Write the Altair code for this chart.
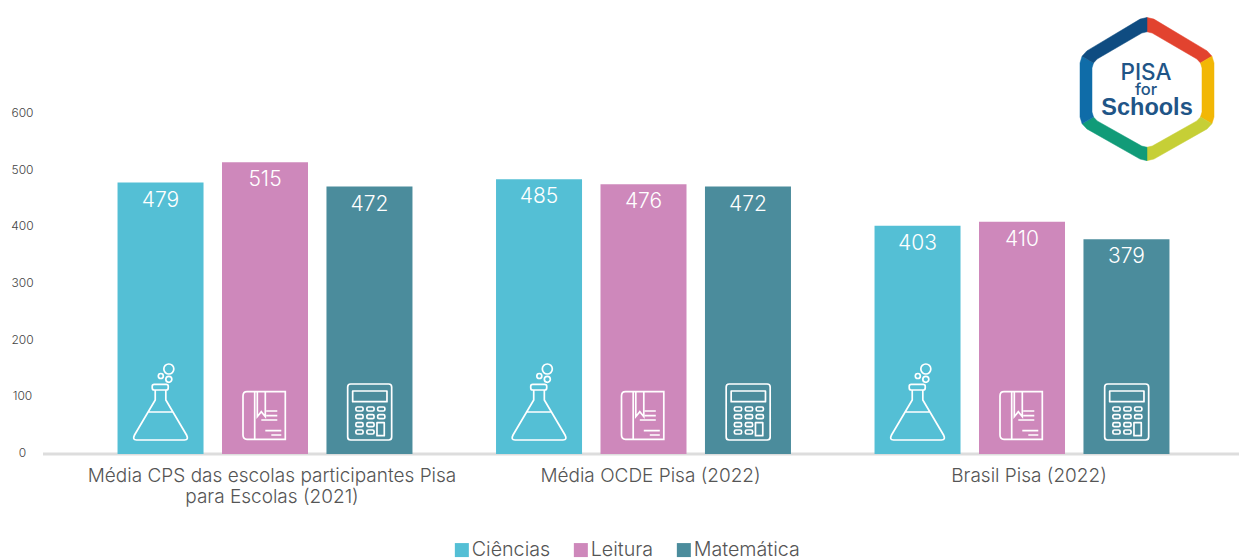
import altair as alt
import pandas as pd
import math

categories = ["Média CPS das escolas participantes Pisa|para Escolas (2021)",
              "Média OCDE Pisa (2022)", "Brasil Pisa (2022)"]
subjects = ["Ciências", "Leitura", "Matemática"]
ciencias = [479, 485, 403]
leitura = [515, 476, 410]
matematica = [472, 472, 379]
colors = ["#54BFD5", "#CE88BB", "#4B8C9C"]
y_ticks = [0, 100, 200, 300, 400, 500, 600]

FONT = "Inter"
W, H = 1196, 340

rows = []
for s, vals in zip(subjects, [ciencias, leitura, matematica]):
    for c, v in zip(categories, vals):
        rows.append({"cat": c, "subject": s, "value": v})
df = pd.DataFrame(rows)


def u(v, r):
    return f"{v / r:.4f}"


def poly(points, r, close=True):
    d = "M" + " L".join(f"{u(x, r)} {u(y, r)}" for x, y in points)
    return d + (" Z" if close else "")


def circle(cx, cy, rad, r):
    k = 0.5523 * rad
    return (f"M{u(cx - rad, r)} {u(cy, r)} "
            f"C{u(cx - rad, r)} {u(cy - k, r)} {u(cx - k, r)} {u(cy - rad, r)} {u(cx, r)} {u(cy - rad, r)} "
            f"C{u(cx + k, r)} {u(cy - rad, r)} {u(cx + rad, r)} {u(cy - k, r)} {u(cx + rad, r)} {u(cy, r)} "
            f"C{u(cx + rad, r)} {u(cy + k, r)} {u(cx + k, r)} {u(cy + rad, r)} {u(cx, r)} {u(cy + rad, r)} "
            f"C{u(cx - k, r)} {u(cy + rad, r)} {u(cx - rad, r)} {u(cy + k, r)} {u(cx - rad, r)} {u(cy, r)} Z")


def rrect(x0, y0, x1, y1, c, r):
    return (f"M{u(x0 + c, r)} {u(y0, r)} L{u(x1 - c, r)} {u(y0, r)} Q{u(x1, r)} {u(y0, r)} {u(x1, r)} {u(y0 + c, r)} "
            f"L{u(x1, r)} {u(y1 - c, r)} Q{u(x1, r)} {u(y1, r)} {u(x1 - c, r)} {u(y1, r)} "
            f"L{u(x0 + c, r)} {u(y1, r)} Q{u(x0, r)} {u(y1, r)} {u(x0, r)} {u(y1 - c, r)} "
            f"L{u(x0, r)} {u(y0 + c, r)} Q{u(x0, r)} {u(y0, r)} {u(x0 + c, r)} {u(y0, r)} Z")


R = 50
flask = " ".join([
    rrect(-8.3, -27.7, 7.7, -22, 2, R),
    f"M{u(-5.3, R)} {u(-22, R)} L{u(-5.3, R)} {u(-12, R)} L{u(-26, R)} {u(23, R)} "
    f"Q{u(-28.5, R)} {u(28, R)} {u(-24, R)} {u(28, R)} L{u(24, R)} {u(28, R)} "
    f"Q{u(28.5, R)} {u(28, R)} {u(26, R)} {u(23, R)} L{u(5.3, R)} {u(-12, R)} L{u(5.3, R)} {u(-22, R)}",
    poly([(-12.3, 0), (12.3, 0)], R, False),
    circle(8.3, -43, 5, R), circle(8.3, -32.7, 3, R), circle(0.3, -36, 2.5, R),
])
book = " ".join([
    f"M{u(20.3, R)} {u(-20.3, R)} L{u(-18, R)} {u(-20.3, R)} Q{u(-22, R)} {u(-20.3, R)} {u(-22, R)} {u(-16, R)} "
    f"L{u(-22, R)} {u(23, R)} Q{u(-22, R)} {u(27.3, R)} {u(-18, R)} {u(27.3, R)} L{u(20.3, R)} {u(27.3, R)} Z",
    poly([(-10.3, -20.3), (-10.3, 27.3)], R, False),
    poly([(-7.7, -20.3), (-7.7, 4.7), (-3.7, -0.3), (0.3, 4.7), (0.3, -20.3)], R, False),
    poly([(1.3, -1), (12.3, -1)], R, False),
    poly([(1.3, 3.7), (12.3, 3.7)], R, False),
    poly([(-3.7, 8), (12.3, 8)], R, False),
    poly([(0.3, 18.7), (16.3, 18.7)], R, False),
    poly([(6.3, 23), (16.3, 23)], R, False),
])
key_parts = []
for kx in (-10, 1, 11.8):
    for ky in (-3, 4.7, 12.7, 20):
        if kx > 10 and ky > 10:
            continue
        key_parts.append(rrect(kx - 3.6, ky - 2, kx + 3.6, ky + 2, 1.5, R))
calc = " ".join([
    rrect(-21.8, -28, 22.2, 28, 3, R),
    rrect(-16.8, -21, 17.5, -10.3, 0.01, R),
    rrect(7.5, 10.7, 14.8, 23.7, 0.01, R),
] + key_parts)
icons = [flask, book, calc]

LR = 74
outer_v = [(0, -74), (67, -34), (67, 36), (0, 74), (-67, 36), (-67, -34)]
inner_v = [(0, -59), (55, -27), (55, 29), (0, 60), (-55, 29), (-55, -27)]
logo_colors = ["#E2432F", "#F2B705", "#C6CF36", "#119B78", "#0F6CA8", "#0F4C81"]


def round_corners(vs, t):
    res = []
    n = len(vs)
    for i, (x, y) in enumerate(vs):
        px, py = vs[i - 1]
        nx, ny = vs[(i + 1) % n]
        lp, ln = math.hypot(px - x, py - y), math.hypot(nx - x, ny - y)
        a = (x + (px - x) * t / lp, y + (py - y) * t / lp)
        b = (x + (nx - x) * t / ln, y + (ny - y) * t / ln)
        m = ((a[0] + b[0]) / 2 * 0.6 + x * 0.4, (a[1] + b[1]) / 2 * 0.6 + y * 0.4)
        res.append((a, m, b))
    return res


outer = round_corners(outer_v, 8)
inner = round_corners(inner_v, 6)

x_enc = alt.X("cat:N", sort=categories,
              scale=alt.Scale(domain=categories, range=[32.75, 1168.25], paddingInner=0, paddingOuter=0),
              axis=alt.Axis(title=None, domain=False, ticks=False, labelAngle=0, labelFont=FONT,
                            labelFontWeight=300, labelFontSize=19, labelColor="#555555", labelOffset=7,
                            labelPadding=12, labelLineHeight=21, labelBaseline="top",
                            labelExpr="split(datum.label, '|')", labelLimit=500))
xo_enc = alt.XOffset("subject:N", sort=subjects,
                     scale=alt.Scale(domain=subjects, paddingInner=0.177, paddingOuter=0.4))
y_enc = alt.Y("value:Q", scale=alt.Scale(domain=[0, 600], nice=False),
              axis=alt.Axis(title=None, values=y_ticks, domain=False, ticks=False, grid=False,
                            labelFont=FONT, labelFontWeight=300, labelFontSize=12, labelColor="#444444",
                            labelAlign="center", labelPadding=21, labelOffset=-1.5))

bars = alt.Chart(df).mark_bar(size=86).encode(
    x=x_enc, xOffset=xo_enc, y=y_enc,
    color=alt.Color("subject:N", sort=subjects, scale=alt.Scale(domain=subjects, range=colors),
                    legend=alt.Legend(title=None, orient="none", direction="horizontal", legendX=409, legendY=426,
                                      symbolType="square", symbolSize=196, symbolStrokeWidth=0, symbolOpacity=1,
                                      labelFont=FONT, labelFontWeight=300, labelFontSize=19.7, labelColor="#555555",
                                      labelOffset=0, columnPadding=20, padding=0)),
)
labels = alt.Chart(df).mark_text(font=FONT, fontWeight=300, fontSize=21, color="white", baseline="middle", dy=18).encode(
    x=alt.X("cat:N", sort=categories), xOffset=alt.XOffset("subject:N", sort=subjects),
    y=alt.Y("value:Q"), text=alt.Text("value:Q"))

layers = [bars, labels]
for s, path in zip(subjects, icons):
    layers.append(
        alt.Chart(df[df.subject == s]).mark_point(shape=path, filled=False, stroke="white", strokeWidth=1.7,
                                                  size=(2 * R) ** 2, opacity=1).encode(
            x=alt.X("cat:N", sort=categories), xOffset=alt.XOffset("subject:N", sort=subjects),
            y=alt.value(H - 42)))

baseline = alt.Chart(pd.DataFrame({"z": [0]})).mark_rule(color="#DDDDDD", strokeWidth=3).encode(
    x=alt.value(0), x2=alt.value(W), y=alt.value(H))
layers.insert(0, baseline)

one = pd.DataFrame({"a": [1]})
for i, col in enumerate(logo_colors):
    j = (i + 1) % 6
    pts = [outer[i][1], outer[i][2], outer[j][0], outer[j][1], inner[j][1], inner[j][0], inner[i][2], inner[i][1]]
    seg = poly(pts, LR)
    layers.append(alt.Chart(one).mark_point(shape=seg, filled=True, fill=col, stroke=col, strokeWidth=0.5,
                                            strokeJoin="round", size=(2 * LR) ** 2, opacity=1).encode(
        x=alt.value(1104), y=alt.value(-25)))
for txt, bx, by, sz, wt, fnt in [("PISA", 1103, -34, 22.5, 500, "Inter"),
                                 ("for", 1103, -19, 16.5, 500, "Inter"),
                                 ("Schools", 1104, 1, 23.5, 700, "Liberation Sans")]:
    layers.append(alt.Chart(one).mark_text(text=txt, font=fnt, fontSize=sz, fontWeight=wt,
                                           color="#1F5587", baseline="alphabetic").encode(
        x=alt.value(bx), y=alt.value(by)))

chart = alt.layer(*layers).properties(
    width=W, height=H, autosize=alt.AutoSizeParams(type="none"),
    padding={"left": 35, "top": 106, "right": 0, "bottom": 105},
).configure_view(stroke=None)

chart.save("out.html", embed_options={"renderer": "svg", "actions": False})
